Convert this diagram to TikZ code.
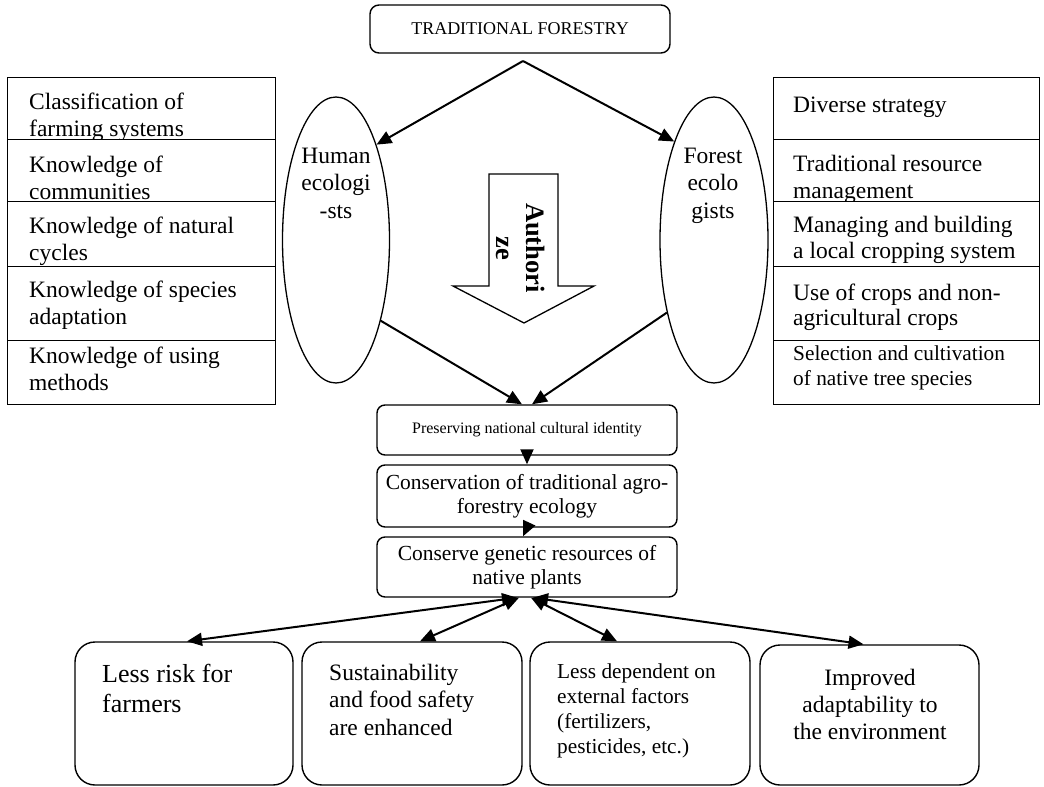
\documentclass[tikz,border=0pt]{standalone}
\usepackage{fontspec}
\setmainfont{Liberation Serif}
\usetikzlibrary{arrows.meta,shapes.geometric}
\newcommand\tstrut{\rule{0pt}{22pt}}
\begin{document}
\begin{tikzpicture}[x=1pt,y=-1pt,
  sqbox/.style={draw,line width=1.4pt,fill=white,minimum width=268pt,anchor=north west,inner sep=0pt},
  rbox/.style={draw,line width=1.4pt,rounded corners=8pt,minimum width=300pt,align=center,inner sep=0pt},
  bbox/.style={draw,line width=1.4pt,rounded corners=20pt,inner sep=0pt},
  ell/.style={draw,ellipse,line width=1.3pt,inner sep=0pt},
  txt/.style={inner sep=0pt,anchor=north west,align=left},
  ctxt/.style={inner sep=0pt,anchor=north,align=center},
  fa/.style={font=\fontsize{23.5}{27}\selectfont},
  fb/.style={font=\fontsize{21.3}{25}\selectfont},
  arr/.style={-{Triangle[length=15pt,width=13pt]},line width=2pt},
  darr/.style={{Triangle[length=15pt,width=13pt]}-{Triangle[length=15pt,width=13pt]},line width=2pt}]
\useasboundingbox (0,0) rectangle (1044,787);
\fill[white] (0,0) rectangle (1044,787);

% top box
\node[rbox,rounded corners=9pt,minimum height=48pt,font=\fontsize{18}{20}\selectfont] (top) at (520,29) {TRADITIONAL FORESTRY};
\coordinate (apex) at (523,61);

% left column
\node[sqbox,minimum height=62pt] (l1) at (7,77) {};
\node[txt,fa] (l1t) at (29,87) {\tstrut Classification of\\farming systems};
\node[sqbox,minimum height=62pt] (l2) at (7,139) {};
\node[txt,fa] (l2t) at (29,150) {\tstrut Knowledge of\\communities};
\node[sqbox,minimum height=65pt] (l3) at (7,201) {};
\node[txt,fa] (l3t) at (29,211) {\tstrut Knowledge of natural\\cycles};
\node[sqbox,minimum height=74pt] (l4) at (7,266) {};
\node[txt,fa] (l4t) at (29,275) {\tstrut Knowledge of species\\adaptation};
\node[sqbox,minimum height=64pt] (l5) at (7,340) {};
\node[txt,fa] (l5t) at (29,341) {\tstrut Knowledge of using\\methods};

% right column
\node[sqbox,minimum width=266pt,minimum height=62pt] (r1) at (773,77) {};
\node[txt,fa] (r1t) at (793,90) {\tstrut Diverse strategy};
\node[sqbox,minimum width=266pt,minimum height=62pt] (r2) at (773,139) {};
\node[txt,fa] (r2t) at (793,149) {\tstrut Traditional resource\\management};
\node[sqbox,minimum width=266pt,minimum height=65pt] (r3) at (773,201) {};
\node[txt,fa,font=\fontsize{23.5}{26}\selectfont] (r3t) at (793,210) {\tstrut Managing and building\\a local cropping system};
\node[sqbox,minimum width=266pt,minimum height=74pt] (r4) at (773,266) {};
\node[txt,fa,font=\fontsize{23.5}{25.5}\selectfont] (r4t) at (793,278) {\tstrut Use of crops and non-\\agricultural crops};
\node[sqbox,minimum width=266pt,minimum height=64pt] (r5) at (773,340) {};
\node[txt,fb] (r5t) at (793,338) {\tstrut Selection and cultivation\\of native tree species};

% ellipses
\node[ell,minimum width=107pt,minimum height=286pt] (hum) at (336,240) {};
\node[ctxt,font=\fontsize{23.5}{27.5}\selectfont] (humt) at (336,141) {\tstrut Human\\ecologi\\-sts};
\node[ell,minimum width=108pt,minimum height=286pt] (frs) at (714,240) {};
\node[ctxt,font=\fontsize{23.5}{27.5}\selectfont] (frst) at (713,141) {\tstrut Forest\\ecolo\\gists};

\draw[arr] (apex) -- (hum.67);
\draw[arr] (apex) -- (frs.112);

% block arrow
\draw[line width=1.3pt,fill=white] (489,174) -- (558,174) -- (558,286) -- (594,286) -- (524,323) -- (453,286) -- (489,286) -- cycle;
\node[rotate=-90,inner sep=0pt,align=center,font=\bfseries\fontsize{26.5}{30}\selectfont] (auth) at (521,248) {Authori\\ze};

% central chain
\node[rbox,minimum height=50pt,font=\fontsize{16}{18}\selectfont] (pres) at (527,430) {Preserving national cultural identity};
\node[rbox,minimum height=62pt,font=\fontsize{21.5}{24}\selectfont] (cons) at (527,496) {Conservation of traditional agro-\\forestry ecology};
\node[rbox,minimum height=60pt,font=\fontsize{21.5}{24}\selectfont] (cg) at (527,567) {Conserve genetic resources of\\native plants};

\draw[arr] (hum.-61) -- ([xshift=-5pt]pres.north);
\draw[arr] (frs.237) -- ([xshift=5pt]pres.north);
\draw[arr] (pres.south) -- (cons.north);
\draw[arr] (cons.south) -- ([xshift=-4pt]cg.north);

% bottom boxes
\node[bbox,minimum width=218pt,minimum height=143pt] (b1) at (184,713.5) {};
\node[txt,font=\fontsize{26}{30}\selectfont] (b1t) at (102,660) {\tstrut Less risk for\\farmers};
\node[bbox,minimum width=220pt,minimum height=143pt] (b2) at (412,713.5) {};
\node[txt,font=\fontsize{23.5}{27.5}\selectfont] (b2t) at (329,658) {\tstrut Sustainability\\and food safety\\are enhanced};
\node[bbox,minimum width=220pt,minimum height=143pt] (b3) at (640,713.5) {};
\node[txt,fb] (b3t) at (557,656) {\tstrut Less dependent on\\external factors\\(fertilizers,\\pesticides, etc.)};
\node[bbox,minimum width=219pt,minimum height=140pt] (b4) at (869.5,715) {};
\node[ctxt,font=\fontsize{23.5}{27}\selectfont] (b4t) at (870,663) {\tstrut Improved\\adaptability to\\the environment};

\draw[darr] ([xshift=-10pt]cg.south) -- ([xshift=3pt]b1.north);
\draw[darr] ([xshift=-8pt]cg.south) -- ([xshift=8pt]b2.north);
\draw[darr] ([xshift=4pt]cg.south) -- ([xshift=-23pt]b3.north);
\draw[darr] ([xshift=6pt]cg.south) -- ([xshift=-6pt]b4.north);
\end{tikzpicture}
\end{document}
